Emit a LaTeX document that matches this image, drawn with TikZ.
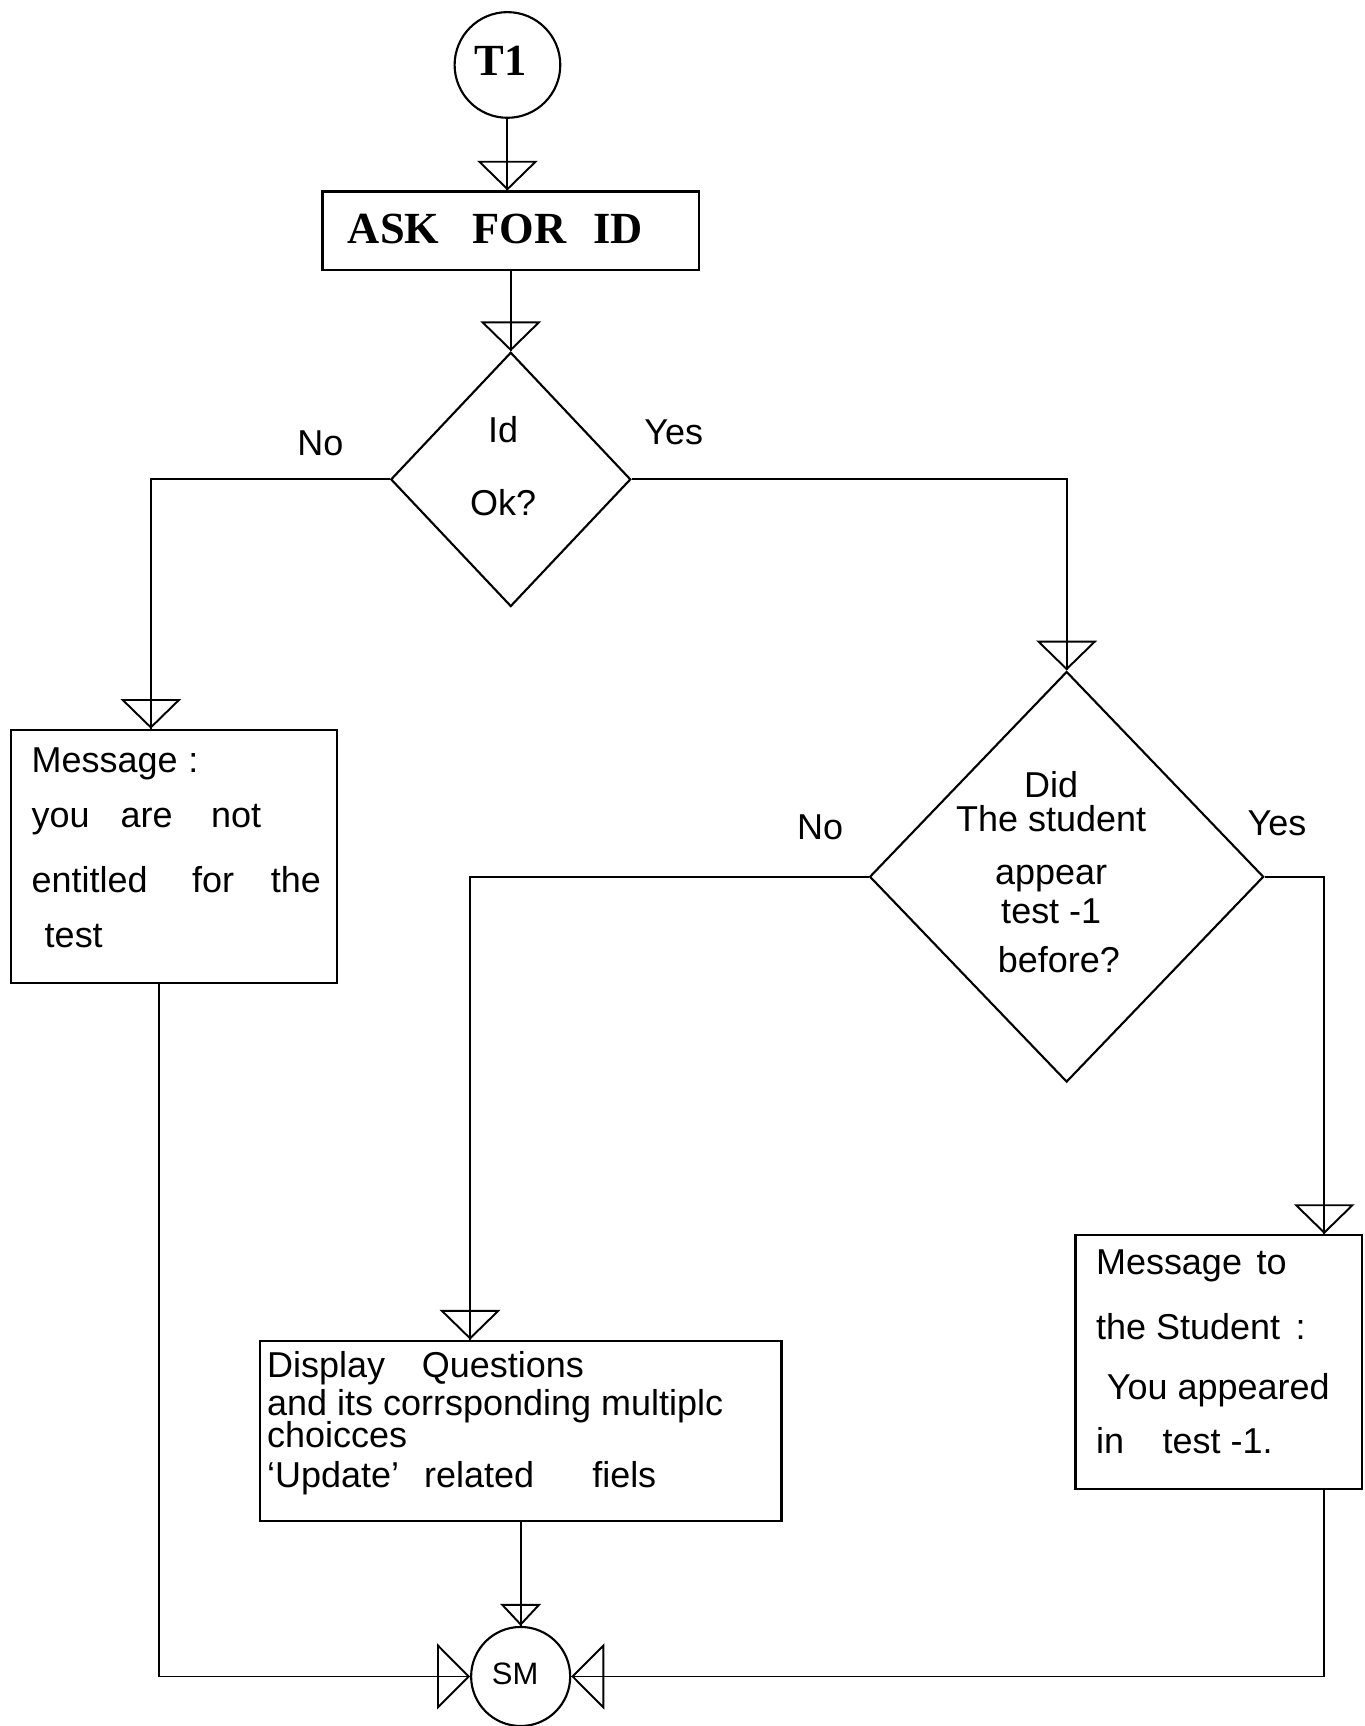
\documentclass[tikz,border=0pt]{standalone}
\usepackage{fontspec}
\setmainfont{Liberation Sans}
\newfontfamily\hdfont{Liberation Serif}
\usetikzlibrary{shapes.geometric,arrows.meta}
\begin{document}
\begin{tikzpicture}[x=0.1mm,y=-0.1mm,
  every node/.style={inner sep=0pt, font=\fontsize{9.3}{11}\selectfont},
  shp/.style={draw, line width=0.55pt},
  boxshape/.style={shp, rectangle},
  circshape/.style={shp, circle},
  decshape/.style={shp, diamond},
  hdtext/.style={font=\hdfont\bfseries\fontsize{11.5}{12}\selectfont},
  flow/.style={draw, line width=0.5pt, -{Triangle[open,length=2.7mm,width=5.5mm]}, postaction={draw,-}},
  flowside/.style={draw, line width=0.5pt, -{Triangle[open,length=3mm,width=6mm]}, postaction={draw,-}},
  flowsmall/.style={draw, line width=0.5pt, -{Triangle[open,length=2mm,width=3.7mm]}, postaction={draw,-}},
]
\useasboundingbox (0,0) rectangle (1240,1568);

% shapes
\node[circshape, minimum size=9.6mm] (t1) at (461,59) {};
\node[hdtext] (t1txt) at (455,55) {T1};

\node[boxshape, minimum width=34.2mm, minimum height=7.1mm] (ask) at (464,209.5) {};
\node[hdtext] (asktxt) at (450,208) {ASK\hspace{8.5pt}FOR\hspace{7pt}ID};

\node[decshape, minimum width=21.8mm, minimum height=23.1mm] (d1) at (464,435.5) {};
\node[align=center, font={\fontsize{9.3}{19}\selectfont}] (d1txt) at (457,423.5) {Id\\Ok?};

\node[boxshape, minimum width=29.6mm, minimum height=23mm] (msg) at (158,778) {};
\node[anchor=west, align=left, font={\fontsize{9.3}{14.2}\selectfont\lineskiplimit=-20pt}] (msgtxt) at (28,770)
  {Message\hspace{2.8pt}:\\
   you\hspace{8pt}are\hspace{10pt}not\\[2.6pt]
   entitled\hspace{11.5pt}for\hspace{9.5pt}the\\
   \hspace{3.4pt}test};

\node[decshape, minimum width=35.8mm, minimum height=37.3mm] (d2) at (969,796.5) {};
\node[align=center, font={\fontsize{9.3}{8.8}\selectfont\lineskiplimit=-20pt}] (d2txt) at (955,792.5)
  {Did\\The student\\[4.9pt]appear\\[1.2pt]test -1\\[4pt]\hspace*{4pt}before?};

\node[boxshape, minimum width=47.4mm, minimum height=16.4mm] (disp) at (473,1300) {};
\node[anchor=west, align=left, font={\fontsize{9.3}{9.7}\selectfont\lineskiplimit=-20pt}] (disptxt) at (242,1293)
  {Display\hspace{9.5pt}Questions\\
   and its corrsponding multiplc\\[-1.45pt]
   choicces\\[0.8pt]
   `Update'\hspace{6.5pt}related\hspace{15pt}fiels};

\node[boxshape, minimum width=26mm, minimum height=23.1mm] (rbox) at (1107,1237.5) {};
\node[anchor=west, align=left, font={\fontsize{9.3}{15.4}\selectfont\lineskiplimit=-20pt}] (rtxt) at (995,1228)
  {Message\hspace{3.8pt}to\\[1.4pt]
   the Student\hspace{4pt}:\\
   \hspace{2.8pt}You appeared\\[-1.5pt]
   in\hspace{10pt}test -1.};

\node[circshape, minimum size=9mm] (sm) at (473,1523) {};
\node[font=\fontsize{8}{9}\selectfont] (smtxt) at (468,1521) {SM};

% labels
\node (no1) at (291,403) {No};
\node (yes1) at (612,393) {Yes};
\node (no2) at (745,752) {No};
\node (yes2) at (1160,748) {Yes};

% connectors
\draw[flow] (t1.south) -- (t1.south |- ask.north);
\draw[flow] (ask.south) -- (d1.north);
\draw[flow] (d1.west) -| ([xshift=12.8mm]msg.north west);
\draw[flow] (d1.east) -| (d2.north);
\draw[flow] (d2.west) -| ([xshift=19.2mm]disp.north west);
\draw[flow] (d2.east) -| ([xshift=22.7mm]rbox.north west);
\draw[flowside] ([xshift=13.5mm]msg.south west) |- (sm.west);
\draw[flowsmall] (disp.south) -- (sm.north);
\draw[flowside] ([xshift=22.7mm]rbox.south west) |- (sm.east);
\end{tikzpicture}
\end{document}
